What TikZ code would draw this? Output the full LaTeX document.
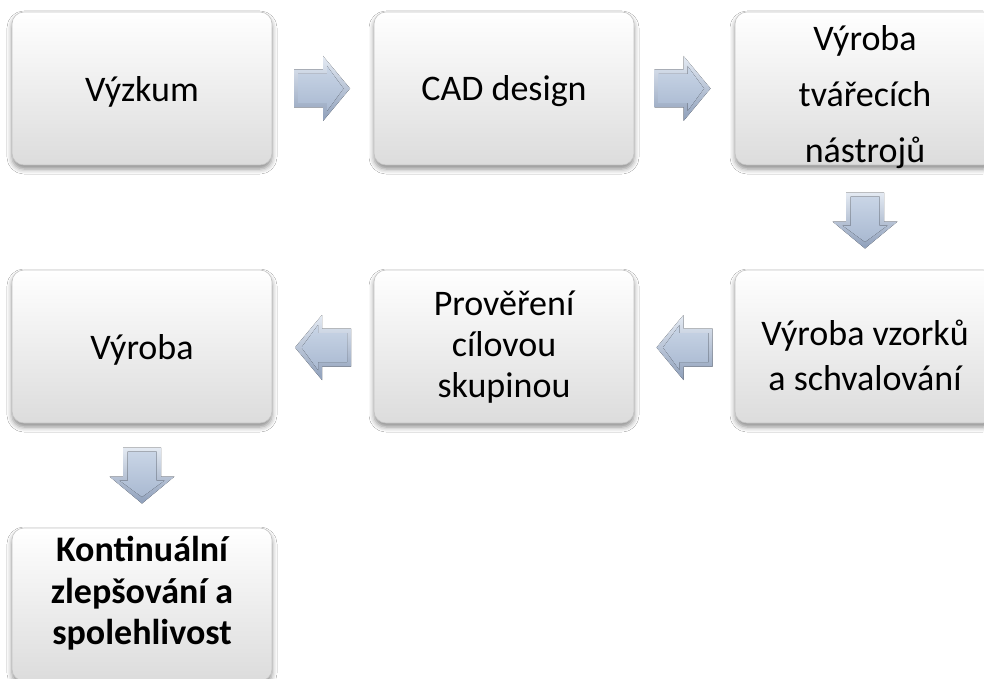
\documentclass[tikz,border=0pt]{standalone}
\usepackage{fontspec}
\setmainfont{Carlito}
\usetikzlibrary{shadows.blur,calc}
\definecolor{boxborder}{HTML}{C4C4C4}
\definecolor{boxbot}{HTML}{DCDCDC}
\definecolor{arrlight}{HTML}{E4EAF3}
\definecolor{arrdark}{HTML}{8E9FBA}
\definecolor{arrtop}{HTML}{C9D5E6}
\definecolor{arrbot}{HTML}{A9B9D1}
\tikzset{
  stagebox/.style={rounded corners=12pt, draw=boxborder, line width=0.6pt,
    top color=white, bottom color=boxbot, minimum width=260pt, minimum height=153pt,
    inner sep=0pt,
    blur shadow={shadow xshift=0pt, shadow yshift=-4pt, shadow blur radius=5pt, shadow opacity=45}},
  stagetext/.style={align=center, inner sep=0pt},
  pics/blockarrow/.style={code={
    \fill[top color=arrlight, bottom color=arrdark]
      (-28,-19)--(1,-19)--(1,-32.5)--(28,0)--(1,32.5)--(1,19)--(-28,19)--cycle;
    \fill[top color=arrtop, bottom color=arrbot]
      (-24,-14.5)--(5,-14.5)--(5,-22.5)--(21.5,0)--(5,22.5)--(5,14.5)--(-24,14.5)--cycle;
  }}
}
\begin{document}
\begin{tikzpicture}[x=1pt,y=-1pt]
\useasboundingbox (0,0) rectangle (984,679);
\fill[white] (0,0) rectangle (984,679);
% boxes
\node[stagebox] (b1) at (142,88.5) {};
\node[stagebox] (b2) at (504,88.5) {};
\node[stagebox] (b3) at (865,88.5) {};
\node[stagebox] (b4) at (865,346.5) {};
\node[stagebox] (b5) at (504,346.5) {};
\node[stagebox] (b6) at (142,346.5) {};
\node[stagebox] (b7) at (142,604.5) {};
% texts
\node[stagetext, font=\fontsize{36}{41}\selectfont] (t1) at ($(b1.center)+(0,3)$) {Výzkum};
\node[stagetext, font=\fontsize{36}{41}\selectfont] (t2) at ($(b2.center)+(0,3)$) {CAD design};
\node[stagetext, font=\fontsize{36}{56}\selectfont] (t3) at ($(b3.center)+(0,9)$) {Výroba\\tvářecích\\nástrojů};
\node[stagetext, font=\fontsize{36}{45}\selectfont] (t4) at ($(b4.center)+(0,9)$) {Výroba vzorků\\a schvalování};
\node[stagetext, font=\fontsize{36}{41}\selectfont] (t5) at ($(b5.center)+(0,1)$) {Prověření\\cílovou\\skupinou};
\node[stagetext, font=\fontsize{36}{41}\selectfont] (t6) at ($(b6.center)+(0,3)$) {Výroba};
\node[stagetext, font=\bfseries\fontsize{36}{41.5}\selectfont] (t7) at ($(b7.center)+(0,-11)$) {Kontinuální\\zlepšování a\\spolehlivost};
% block arrows
\pic at ($(b1.east)!0.5!(b2.west)+(-1,0)$) {blockarrow};
\pic at ($(b2.east)!0.5!(b3.west)+(-2,0)$) {blockarrow};
\pic[rotate=-90] at ($(b3.south)!0.5!(b4.north)+(0,3)$) {blockarrow};
\pic[rotate=180] at ($(b4.west)!0.5!(b5.east)+(0,1)$) {blockarrow};
\pic[rotate=180] at ($(b5.west)!0.5!(b6.east)+(0,1)$) {blockarrow};
\pic[rotate=-90] at ($(b6.south)!0.5!(b7.north)$) {blockarrow};
\end{tikzpicture}
\end{document}
